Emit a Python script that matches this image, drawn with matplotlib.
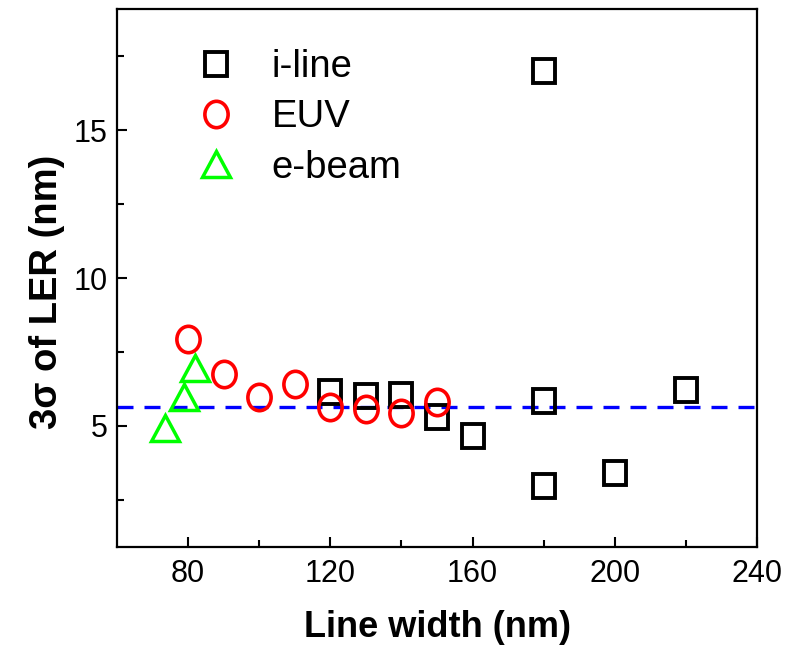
import matplotlib
matplotlib.use("Agg")
import matplotlib.pyplot as plt
from matplotlib.markers import MarkerStyle
from matplotlib.transforms import Affine2D
from matplotlib.ticker import FixedLocator

plt.rcParams['font.family'] = ['Liberation Sans', 'DejaVu Sans']

# i-line
iline_x = [120, 130, 140, 150, 160, 180, 180, 180, 200, 220]
iline_y = [6.16, 6.0, 6.05, 5.3, 4.65, 17.0, 5.85, 2.95, 3.42, 6.22]
# EUV
euv_x = [80, 90, 100, 110, 120, 130, 140, 150]
euv_y = [7.92, 6.75, 5.99, 6.41, 5.63, 5.56, 5.45, 5.8]
# e-beam
ebeam_x = [73.4, 78.8, 82.0]
ebeam_y = [4.94, 5.99, 6.96]
# average LER level
ler_level = 5.62

x_major = [80, 120, 160, 200, 240]
x_minor = [100, 140, 180, 220]
y_major = [5, 10, 15]
y_minor = [2.5, 7.5, 12.5, 17.5]

fig = plt.figure(figsize=(7.91, 6.49), dpi=100)
ax = fig.add_axes([117/791, 1 - 547/649, 640/791, 538/649])

sq = MarkerStyle('s', transform=Affine2D().scale(0.86, 1.0))
ci = MarkerStyle('o', transform=Affine2D().scale(0.88, 1.0))
tr = MarkerStyle('^', transform=Affine2D().scale(1.0, 0.93))

ax.axhline(ler_level, color='#0000FF', lw=2.4, dashes=(4.8, 3.3), zorder=1)
ax.plot(iline_x, iline_y, ls='none', marker=sq, ms=17.8, mfc='none',
        mec='black', mew=2.8, label='i-line', zorder=3)
ax.plot(euv_x, euv_y, ls='none', marker=ci, ms=19, mfc='none',
        mec='#FF0000', mew=2.6, label='EUV', zorder=3)
ax.plot(ebeam_x, ebeam_y, ls='none', marker=tr, ms=20, mfc='none',
        mec='#00FF00', mew=2.5, label='e-beam', zorder=3)

ax.set_xlim(60, 240)
ax.set_ylim(0.9, 19.1)
ax.xaxis.set_major_locator(FixedLocator(x_major))
ax.xaxis.set_minor_locator(FixedLocator(x_minor))
ax.yaxis.set_major_locator(FixedLocator(y_major))
ax.yaxis.set_minor_locator(FixedLocator(y_minor))
ax.tick_params(which='both', direction='in', width=1.5, labelsize=22, pad=7,
               top=False, right=False)
ax.tick_params(axis='x', which='both', pad=9)
ax.tick_params(which='major', length=7)
ax.tick_params(which='minor', length=5)
for s in ax.spines.values():
    s.set_linewidth(1.6)

ax.set_xlabel('Line width (nm)', fontsize=26, fontweight='bold')
ax.set_ylabel('3σ of LER (nm)', fontsize=27.5, fontweight='bold')
ax.xaxis.set_label_coords(0.5, -0.118)
ax.yaxis.set_label_coords(-0.082, 0.474)

ax.legend(loc='upper left', bbox_to_anchor=(0.125, 0.925), frameon=False,
          fontsize=27.5, numpoints=1, handlelength=1.0, handletextpad=0.95,
          labelspacing=0.37, borderpad=0, borderaxespad=0)

fig.savefig('out.png', dpi=100)
